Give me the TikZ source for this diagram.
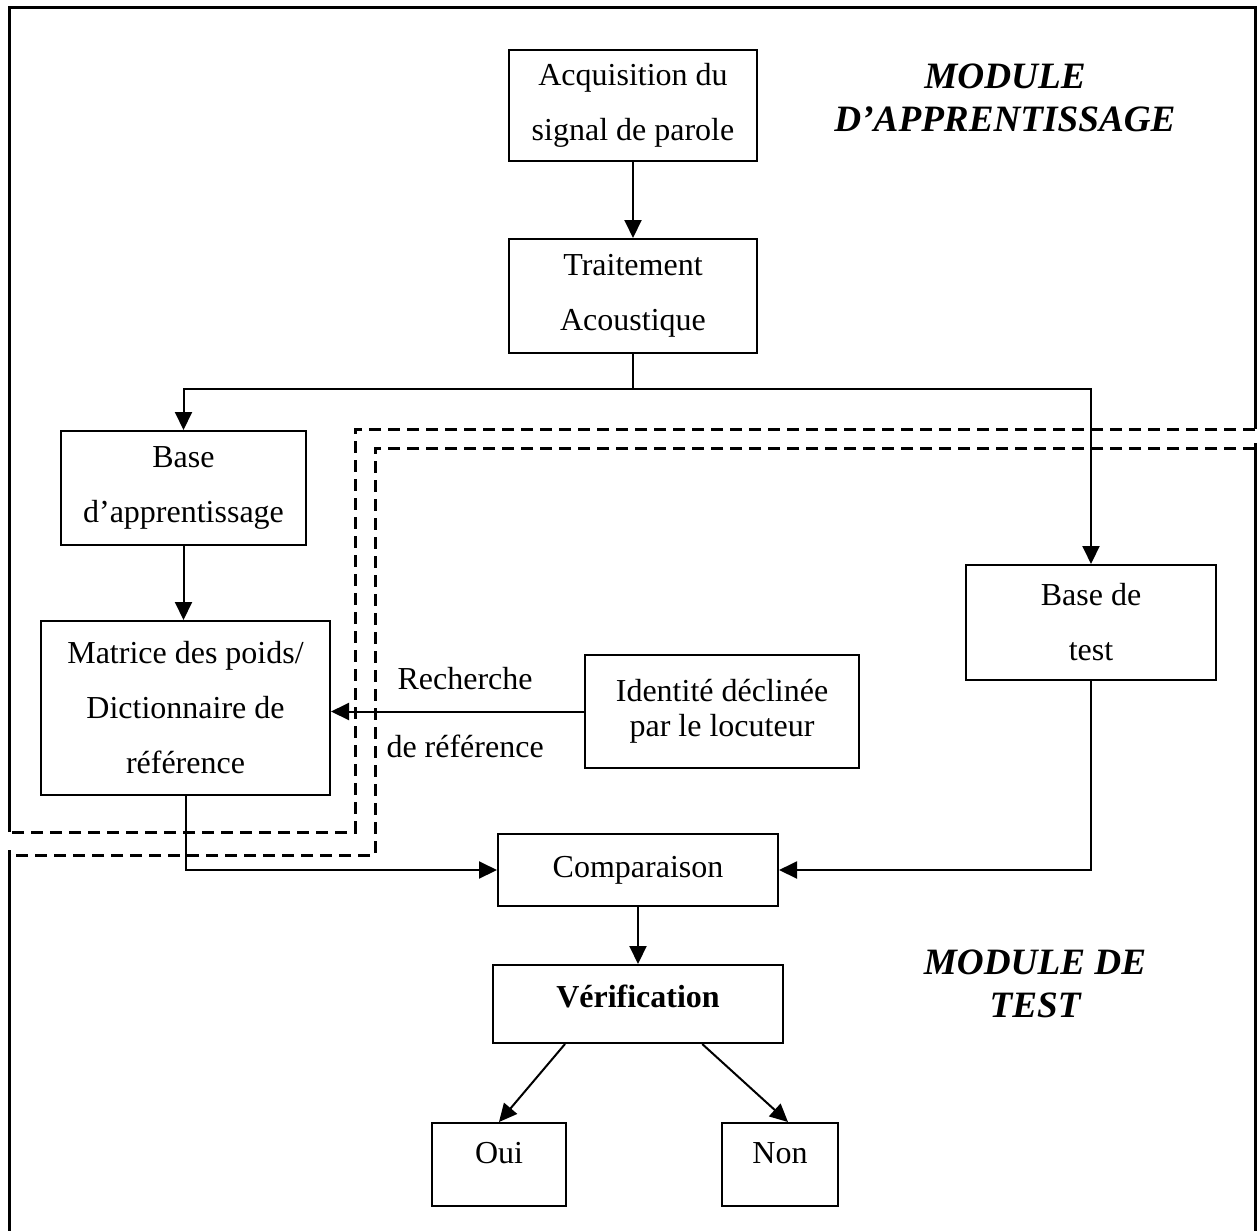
\documentclass[tikz,border=0pt]{standalone}
\usepackage{fontspec}
\setmainfont{Liberation Serif}
\usetikzlibrary{arrows.meta}
\usetikzlibrary{calc}

\begin{document}
\begin{tikzpicture}[x=0.5pt,y=-0.5pt,
    box/.style={draw, line width=1pt, align=center, inner sep=0pt, font=\fontsize{16}{27.5}\selectfont},
    note/.style={font=\fontsize{16}{27.5}\selectfont},
    link/.style={line width=1pt, -{Triangle[length=9pt,width=8.5pt]}},
    wire/.style={line width=1pt},
    frame/.style={line width=1.5pt},
    border/.style={line width=1.5pt, dash pattern=on 6pt off 3.5pt},
    title/.style={align=center, font=\fontsize{18.6}{21.5}\selectfont\bfseries\itshape}]

    \useasboundingbox (0,0) rectangle (1257,1231);

    % learning module frame
    \draw[frame] (9,832) -- (9,7) -- (1255,7) -- (1255,429);
    \draw[border] (1255,429) -- (355,429) -- (355,832) -- (9,832);

    % test module frame
    \draw[frame] (9,850) -- (9,1231);
    \draw[frame] (1255,443) -- (1255,1231);
    \draw[border] (1255,448) -- (375,448) -- (375,855) -- (9,855);

    % titles
    \node[title] (learn) at (1005,98) {MODULE\\D’APPRENTISSAGE};
    \node[title] (testmod) at (1035,984) {MODULE DE\\TEST};

    % boxes
    \node[box, minimum width=124pt, minimum height=55.5pt] (acq) at (633,105.5) {Acquisition du\\signal de parole};
    \node[box, minimum width=124pt, minimum height=57pt] (trait) at (633,296) {Traitement\\Acoustique};
    \node[box, minimum width=122.5pt, minimum height=57pt] (baseapp) at (183.5,488) {Base\\d’apprentissage};
    \node[box, minimum width=144.5pt, minimum height=87pt] (matrice) at (185.5,708) {Matrice des poids/\\Dictionnaire de\\référence};
    \node[box, minimum width=137pt, minimum height=56.5pt, font=\fontsize{16}{17.5}\selectfont] (ident) at (722,711.5) {Identité déclinée\\par le locuteur};
    \node[box, minimum width=125pt, minimum height=57.5pt] (basetest) at (1091,622.5) {Base de\\test};
    \node[box, minimum width=140pt, minimum height=36pt] (comp) at (638,870) {Comparaison};
    \node[box, minimum width=145pt, minimum height=39pt, text height=11pt, text depth=7.4pt, font=\fontsize{16}{27.5}\selectfont\bfseries] (verif) at (638,1004) {Vérification};
    \node[box, minimum width=67pt, minimum height=41.5pt, text height=11pt, text depth=12.4pt] (oui) at (499,1164.5) {Oui};
    \node[box, minimum width=58pt, minimum height=41.5pt, text height=11pt, text depth=12.4pt] (non) at (780,1164.5) {Non};

    % connectors
    \coordinate (split) at (633,389);
    \draw[link] (acq) -- (trait);
    \draw[wire] (trait.south) -- (split);
    \draw[link] (split) -| (baseapp.north);
    \draw[link] (split) -| (basetest.north);
    \draw[link] (baseapp.south) -- (baseapp.south |- matrice.north);
    \draw[link] (ident.west) -- (ident.west -| matrice.east)
        node[note, pos=0.47, above=7pt] (rech) {Recherche}
        node[note, pos=0.47, below=8pt] (ref) {de référence};
    \draw[link] (matrice.south) |- (comp.west);
    \draw[link] (basetest.south) |- (comp.east);
    \draw[link] (comp) -- (verif);
    \draw[link] ($(verif.south west)!0.25!(verif.south east)$) -- (oui.north);
    \draw[link] ($(verif.south west)!0.72!(verif.south east)$) -- ($(non.north)+(8,0)$);

\end{tikzpicture}
\end{document}
